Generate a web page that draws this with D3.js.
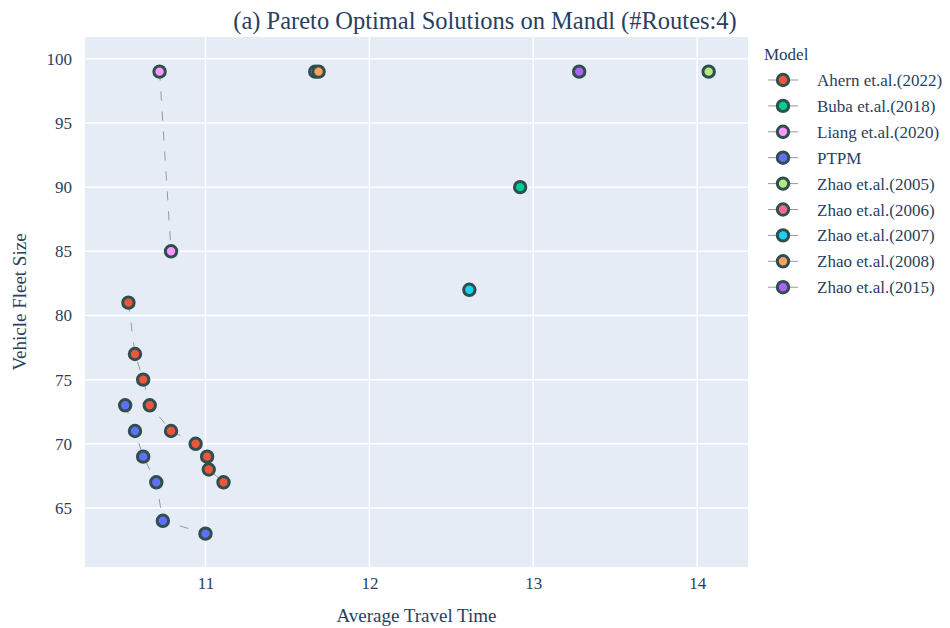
<!DOCTYPE html>
<html>
<head>
<meta charset="utf-8">
<script src="https://cdn.jsdelivr.net/npm/d3@7"></script>
<style>
  body { margin: 0; background: #fff; }
  text { font-family: "Liberation Serif", "DejaVu Serif", serif; fill: #2a3f5f; }
</style>
</head>
<body>
<div id="chart"></div>
<script>
// series names, colours and values
var models = ["Ahern et.al.(2022)", "Buba et.al.(2018)", "Liang et.al.(2020)", "PTPM",
  "Zhao et.al.(2005)", "Zhao et.al.(2006)", "Zhao et.al.(2007)", "Zhao et.al.(2008)", "Zhao et.al.(2015)"];
var colors = ["#EF553B", "#00CC96", "#FF97FF", "#636EFA", "#B6E880", "#FF6692", "#19D3F3", "#FFA15A", "#AB63FA"];

var aherTime = [10.53, 10.57, 10.62, 10.66, 10.79, 10.94, 11.01, 11.02, 11.11];
var aherFleet = [81, 77, 75, 73, 71, 70, 69, 68, 67];
var bubaTime = [12.92];
var bubaFleet = [90];
var liangTime = [10.72, 10.79];
var liangFleet = [99, 85];
var ptpmTime = [10.51, 10.57, 10.62, 10.70, 10.74, 11.00];
var ptpmFleet = [73, 71, 69, 67, 64, 63];
var zhao2005Time = [14.07], zhao2005Fleet = [99];
var zhao2006Time = [11.67], zhao2006Fleet = [99];
var zhao2007Time = [12.61], zhao2007Fleet = [82];
var zhao2008Time = [11.69], zhao2008Fleet = [99];
var zhao2015Time = [13.28], zhao2015Fleet = [99];

var xTicks = [11, 12, 13, 14];
var yTicks = [65, 70, 75, 80, 85, 90, 95, 100];

var times = [aherTime, bubaTime, liangTime, ptpmTime, zhao2005Time, zhao2006Time, zhao2007Time, zhao2008Time, zhao2015Time];
var fleets = [aherFleet, bubaFleet, liangFleet, ptpmFleet, zhao2005Fleet, zhao2006Fleet, zhao2007Fleet, zhao2008Fleet, zhao2015Fleet];

var series = models.map(function(m, i){
    return { name: m, color: colors[i],
      points: times[i].map(function(t, j){ return { x: t, y: fleets[i][j] }; }) };
});

var width = 950, height = 628;
var margin = { left: 85, right: 202, top: 37, bottom: 61 };

var svg = d3.select("#chart").append("svg")
    .attr("width", width)
    .attr("height", height);

var xScale = d3.scaleLinear()
    .domain([10.265, 14.31])
    .range([margin.left, width - margin.right]);
var yScale = d3.scaleLinear()
    .domain([60.4, 101.7])
    .range([height - margin.bottom, margin.top]);

svg.append("rect")
    .attr("x", margin.left)
    .attr("y", margin.top)
    .attr("width", width - margin.left - margin.right)
    .attr("height", height - margin.top - margin.bottom)
    .attr("fill", "#E5ECF6");

// grid
svg.selectAll("line.xgrid").data(xTicks).enter().append("line")
    .attr("x1", function(d){ return xScale(d); })
    .attr("x2", function(d){ return xScale(d); })
    .attr("y1", margin.top).attr("y2", height - margin.bottom)
    .attr("stroke", "#fff").attr("stroke-width", 1.5);
svg.selectAll("line.ygrid").data(yTicks).enter().append("line")
    .attr("y1", function(d){ return yScale(d); })
    .attr("y2", function(d){ return yScale(d); })
    .attr("x1", margin.left).attr("x2", width - margin.right)
    .attr("stroke", "#fff").attr("stroke-width", 1.5);

// axes (labels only)
var xAxis = svg.append("g")
    .attr("transform", "translate(0," + (height - margin.bottom) + ")")
    .call(d3.axisBottom(xScale).tickValues(xTicks).tickFormat(d3.format("d")).tickSize(0).tickPadding(10));
var yAxis = svg.append("g")
    .attr("transform", "translate(" + (margin.left - 3) + ",0)")
    .call(d3.axisLeft(yScale).tickValues(yTicks).tickSize(0).tickPadding(10));
[xAxis, yAxis].forEach(function(a){
    a.select(".domain").remove();
    a.selectAll("text").style("font-family", "'Liberation Serif', serif")
      .style("font-size", "17px").attr("fill", "#2a3f5f");
});

svg.append("text")
    .attr("x", (margin.left + width - margin.right) / 2)
    .attr("y", 622)
    .attr("text-anchor", "middle")
    .style("font-size", "19px")
    .text("Average Travel Time");

svg.append("text")
    .attr("transform", "translate(26," + ((margin.top + height - margin.bottom) / 2) + ") rotate(-90)")
    .attr("text-anchor", "middle")
    .style("font-size", "19px")
    .text("Vehicle Fleet Size");

svg.append("text")
    .attr("x", 485)
    .attr("y", 29)
    .attr("text-anchor", "middle")
    .style("font-size", "24.5px")
    .text("(a) Pareto Optimal Solutions on Mandl (#Routes:4)");

// connecting lines
var line = d3.line()
    .x(function(d){ return xScale(d.x); })
    .y(function(d){ return yScale(d.y); });

svg.selectAll("path.link").data(series).enter().append("path")
    .attr("class", "link")
    .attr("d", function(d){ return line(d.points); })
    .attr("fill", "none")
    .attr("stroke", "#999")
    .attr("stroke-width", 1)
    .attr("stroke-dasharray", "9,11");

// markers
series.forEach(function(s){
    svg.selectAll(null).data(s.points).enter().append("circle")
        .attr("cx", function(d){ return xScale(d.x); })
        .attr("cy", function(d){ return yScale(d.y); })
        .attr("r", 5.7)
        .attr("fill", s.color)
        .attr("stroke", "#2F4F4F")
        .attr("stroke-width", 3);
});

// legend
var legend = svg.append("g").attr("transform", "translate(764,0)");
legend.append("text")
    .attr("x", 0).attr("y", 60)
    .style("font-size", "17px")
    .text("Model");

var item = legend.selectAll("g.item").data(series).enter().append("g")
    .attr("transform", function(d, i){ return "translate(0," + (80 + i * 25.9) + ")"; });
item.append("line")
    .attr("x1", 4).attr("x2", 34).attr("y1", 0).attr("y2", 0)
    .attr("stroke", "#999").attr("stroke-width", 1);
item.append("circle")
    .attr("cx", 19).attr("cy", 0).attr("r", 5.7)
    .attr("fill", function(d){ return d.color; })
    .attr("stroke", "#2F4F4F").attr("stroke-width", 3);
item.append("text")
    .attr("x", 53).attr("y", 6)
    .style("font-size", "17px")
    .text(function(d){ return d.name; });
</script>
</body>
</html>
